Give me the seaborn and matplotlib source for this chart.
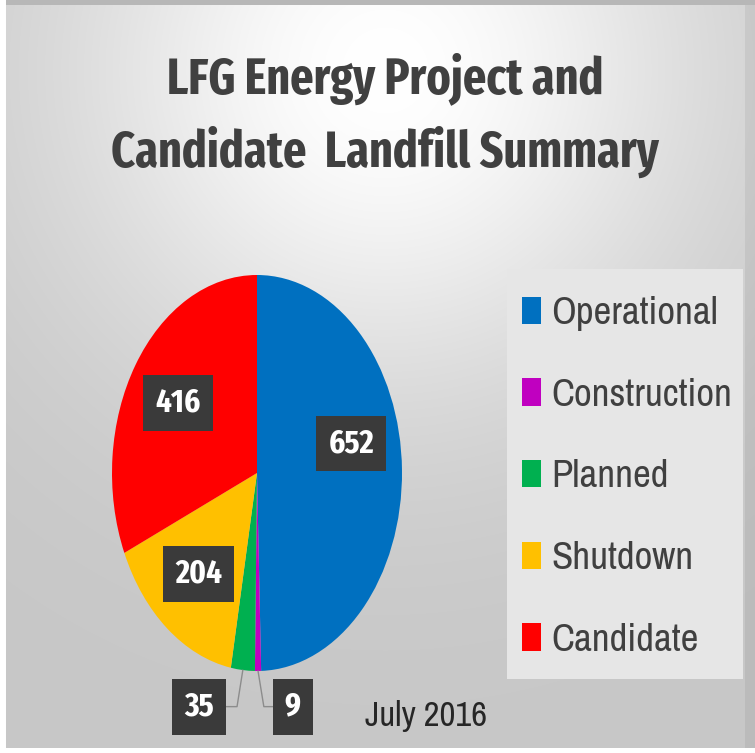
import numpy as np
import matplotlib
matplotlib.use('Agg')
import matplotlib.pyplot as plt
import seaborn as sns
from matplotlib.patches import Rectangle

# LFG 에너지 프로젝트 요약 파이차트
labels = ['Operational', 'Construction', 'Planned', 'Shutdown', 'Candidate']
counts = [652, 9, 35, 204, 416]
colors = ['#0070C0', '#C000C0', '#00B050', '#FFC000', '#FF0000']
title = 'LFG Energy Project and\nCandidate  Landfill Summary'
note = 'July 2016'
# 라벨 위치 미세조정 (엑셀처럼 위로 살짝)
nudge_y = [0.14, 0, 0, 0, 0]

sns.set_style('white')
plt.rcParams['font.family'] = ['Archivo Narrow', 'DejaVu Sans']
bold_fam = ['Fira Sans Extra Condensed', 'Fira Sans Condensed', 'DejaVu Sans']

fig = plt.figure(figsize=(7.55, 7.53), dpi=100)

# 배경 (방사형 그라데이션)
bg = fig.add_axes([0, 0, 1, 1])
bg.axis('off')
yy, xx = np.mgrid[0:753, 0:755]
d = np.hypot(xx - 385, yy - 70)
shade = 0.78 + 0.22 * np.exp(-(d / 320) ** 2)
shade[:, -10:] *= 0.94
shade[:5, :] = 0.72
shade[:, :6] = 1.0
shade[-5:, :] = 1.0
bg.imshow(np.dstack([shade] * 3), extent=[0, 1, 0, 1], aspect='auto', origin='upper')
bg.set_xlim(0, 1)
bg.set_ylim(0, 1)
# 범례 배경 박스
bg.add_patch(Rectangle((507 / 755, 1 - 679 / 753), 236 / 755, 410 / 753,
                       fc='#e6e6e6', ec='none', zorder=3))

# 파이 (가로로 눌린 타원형)
ax = fig.add_axes([112 / 755, 82 / 753, 290 / 755, 396 / 753])
wedges, _ = ax.pie(counts, colors=colors, startangle=90, counterclock=False,
                   wedgeprops=dict(linewidth=0))
ax.set_aspect('auto')
ax.set_xlim(-1, 1)
ax.set_ylim(-1, 1)

box = dict(boxstyle='square,pad=0.36', fc='#3a3a3a', ec='none')
total = sum(counts)
for w, v, ny in zip(wedges, counts, nudge_y):
    th = np.deg2rad((w.theta1 + w.theta2) / 2)
    px, py = np.cos(th), np.sin(th)
    if v / total > 0.05:
        ax.text(0.65 * px, 0.65 * py + ny, str(v), ha='center', va='center', color='white',
                fontsize=24, fontweight='bold', family=bold_fam, bbox=box, zorder=5)
    else:
        # 작은 조각은 아래쪽에 라벨 + 꺾은 지시선
        side = -1 if px < 0.005 else 1
        lx = px + side * (0.26 if side < 0 else 0.20)
        ly = -1.18
        ex = px + side * 0.04
        ax.plot([lx, ex, px], [ly, ly, py], color='#8c8c8c', lw=1, clip_on=False, zorder=4)
        ax.text(lx + side * 0.04, ly, str(v), ha='center', va='center', color='white',
                fontsize=24, fontweight='bold', family=bold_fam, bbox=box, zorder=5,
                clip_on=False)

# 범례
leg = fig.legend(wedges, labels, loc='upper left', bbox_to_anchor=(522 / 755, 1 - 296 / 753),
                 frameon=False, fontsize=28, handlelength=0.5, handleheight=0.7,
                 handletextpad=0.26, labelspacing=1.2, borderpad=0, borderaxespad=0)
for t in leg.get_texts():
    t.set_color('#404040')

fig.text(385 / 755, 1 - 115 / 753, title, ha='center', va='center', fontsize=36,
         fontweight='bold', family=bold_fam, color='#404040', linespacing=1.52)
fig.text(426 / 755, 1 - 716 / 753, note, ha='center', va='center', fontsize=25, color='#262626')

fig.savefig('out.png', dpi=100)
